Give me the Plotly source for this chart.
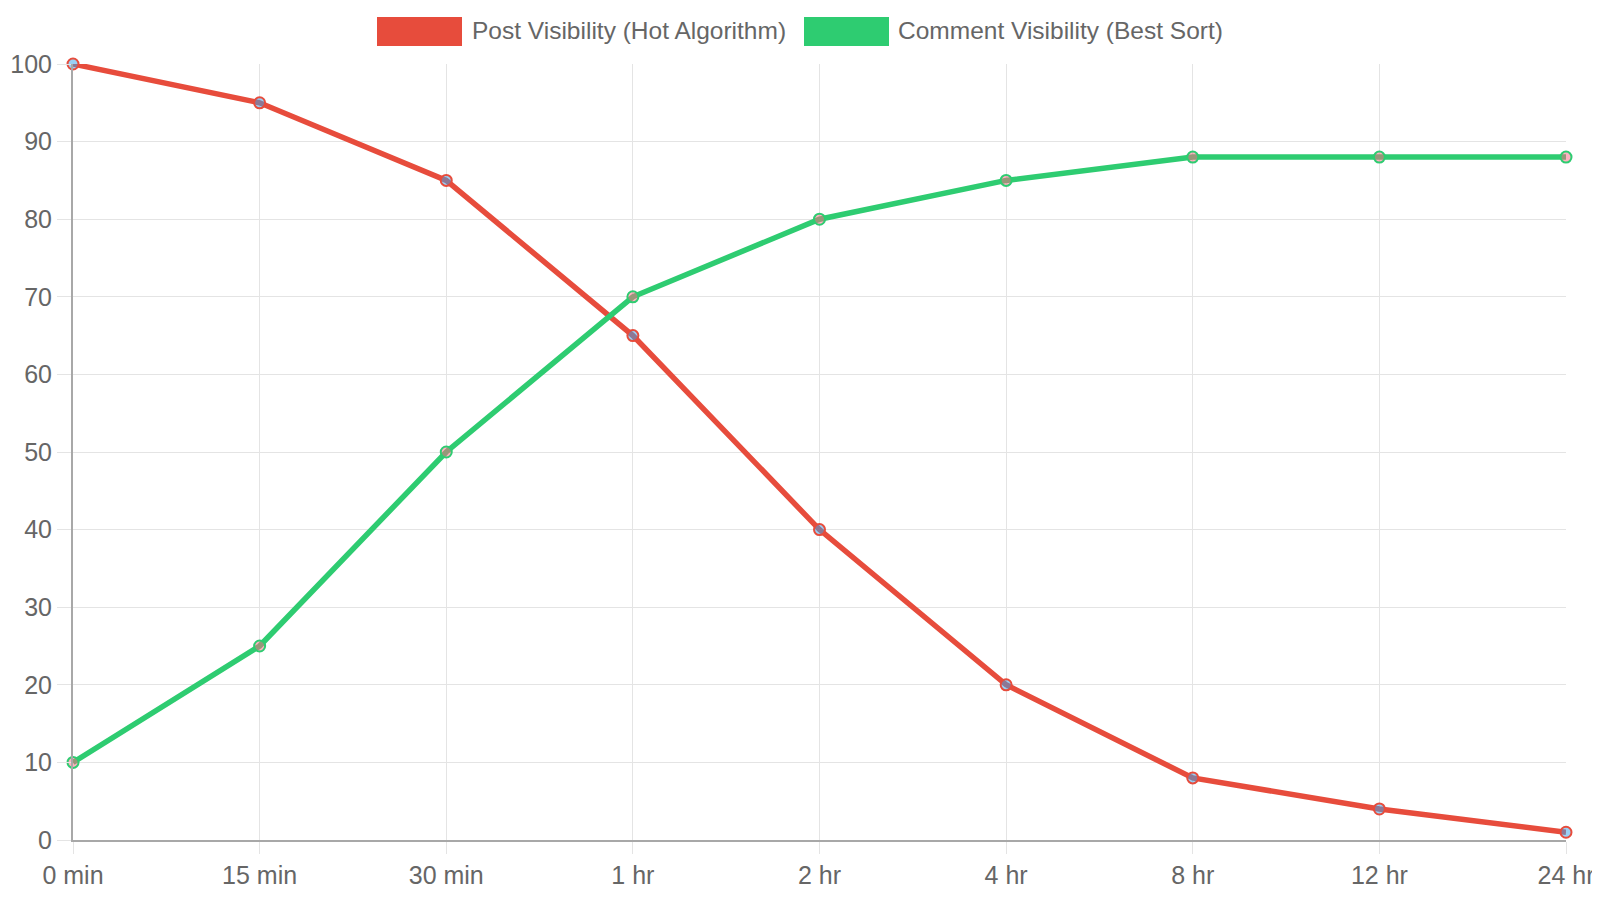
import plotly.graph_objects as go

# Visibility over time after posting
time_labels = ['0 min', '15 min', '30 min', '1 hr', '2 hr', '4 hr', '8 hr', '12 hr', '24 hr']
post_visibility = [100, 95, 85, 65, 40, 20, 8, 4, 1]
comment_visibility = [10, 25, 50, 70, 80, 85, 88, 88, 88]

series_names = ['Post Visibility (Hot Algorithm)', 'Comment Visibility (Best Sort)']
series_colors = ['#e74c3c', '#2ecc71']
point_fills = ['rgba(54,162,235,0.5)', 'rgba(255,99,132,0.5)']

# page body adds an 8px offset, so margins are shifted back by it
W, H = 1600, 900
L, R, T, B = 65, 42, 56, 68
font = 'Liberation Sans, Arial, sans-serif'
grid = '#e4e4e4'
axis_col = '#a8a8a8'


def px_x(p):
    return (p - 8 - L) / (W - L - R)


def px_y(p):
    return (H - B - (p - 8)) / (H - T - B)


fig = go.Figure()
for name, vals, col, fill in zip(series_names, [post_visibility, comment_visibility],
                                 series_colors, point_fills):
    fig.add_trace(go.Scatter(
        x=time_labels, y=vals, name=name, mode='lines+markers',
        line=dict(color=col, width=5.5),
        marker=dict(size=11, color=fill, line=dict(color=col, width=2)),
        cliponaxis=False, showlegend=False))

# legend drawn as Chart.js-style wide swatches
legend_pos = [(377, 470), (804, 896)]
for (bx, tx), name, col in zip(legend_pos, series_names, series_colors):
    fig.add_shape(type='rect', xref='paper', yref='paper',
                  x0=px_x(bx), x1=px_x(bx + 85), y0=px_y(46), y1=px_y(17),
                  fillcolor=col, line=dict(width=0))
    fig.add_annotation(xref='paper', yref='paper', x=px_x(tx), y=px_y(31),
                       text=name, showarrow=False, xanchor='left', yanchor='middle',
                       font=dict(family=font, size=24.5, color='#666666'))

fig.update_xaxes(type='category', range=[0, len(time_labels) - 1], automargin=False,
                 showgrid=True, gridcolor=grid, gridwidth=1,
                 ticks='outside', ticklen=12, tickcolor=grid, tickwidth=1,
                 showline=True, linecolor=axis_col, linewidth=2,
                 tickfont=dict(family=font, size=25, color='#666666'))
fig.update_yaxes(range=[0, 100], dtick=10, automargin=False,
                 showgrid=True, gridcolor=grid, gridwidth=1, zeroline=False,
                 ticks='outside', ticklen=14, tickcolor=grid, tickwidth=1,
                 showline=True, linecolor=axis_col, linewidth=2,
                 tickfont=dict(family=font, size=25, color='#666666'))

fig.update_layout(width=W, height=H, margin=dict(l=L, r=R, t=T, b=B),
                  plot_bgcolor='white', paper_bgcolor='white')

fig.write_html('out.html')
